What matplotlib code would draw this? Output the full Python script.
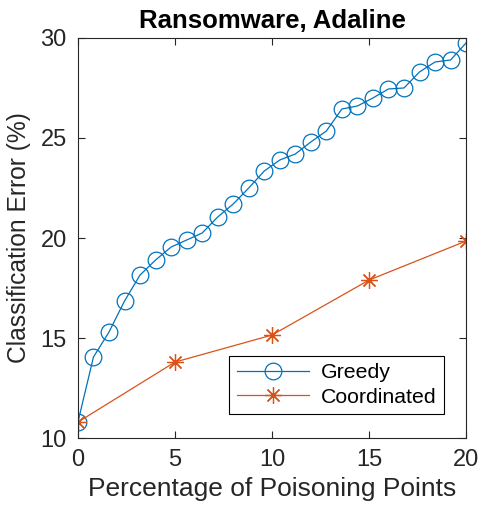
import numpy as np
import matplotlib
matplotlib.use("Agg")
import matplotlib.pyplot as plt

plt.rcParams['font.family'] = ['Liberation Sans', 'DejaVu Sans']

# greedy attack: poisoning percentage vs classification error
greedy_x = [0, 0.8, 1.6, 2.4, 3.2, 4.0, 4.8, 5.6, 6.4, 7.2, 8.0, 8.8, 9.6,
            10.4, 11.2, 12.0, 12.8, 13.6, 14.4, 15.2, 16.0, 16.8, 17.6,
            18.4, 19.2, 20.0]
greedy_err = [10.8, 14.05, 15.3, 16.85, 18.15, 18.9, 19.55, 19.9, 20.25,
              21.05, 21.7, 22.5, 23.35, 23.9, 24.2, 24.8, 25.35, 26.45,
              26.6, 27.0, 27.45, 27.5, 28.3, 28.8, 28.9, 29.75]

# coordinated attack
coord_x = [0, 5, 10, 15, 20]
coord_err = [10.8, 13.8, 15.15, 17.9, 19.85]

blue = '#0072BD'
orange = '#D95319'
axis_gray = '#262626'

fig = plt.figure(figsize=(4.81, 5.13), dpi=100)
ax = fig.add_axes([0.162, 0.146, 0.807, 0.780])

ax.plot(greedy_x, greedy_err, color=blue, lw=0.9, marker='o',
        markersize=12, markerfacecolor='none', markeredgewidth=0.9,
        label='Greedy')
ax.plot(coord_x, coord_err, color=orange, lw=0.9, marker=(8, 2, 0),
        markersize=12, markeredgewidth=0.9, label='Coordinated')

ax.set_xlim(0, 20)
ax.set_ylim(10, 30)
ax.set_xticks([0, 5, 10, 15, 20])
ax.set_yticks([10, 15, 20, 25, 30])

ax.tick_params(direction='in', top=True, right=True, length=5,
               width=0.8, colors=axis_gray, labelsize=17)
ax.tick_params(axis='x', pad=8)
ax.tick_params(axis='y', pad=8)
for s in ax.spines.values():
    s.set_color(axis_gray)
    s.set_linewidth(0.8)

ax.set_xlabel('Percentage of Poisoning Points', fontsize=19,
              color=axis_gray, labelpad=4)
ax.set_ylabel('Classification Error (%)', fontsize=17.7,
              color=axis_gray, labelpad=7)
ax.set_title('Ransomware, Adaline', fontsize=18.5, fontweight='bold', pad=7)

leg = ax.legend(loc='lower right', bbox_to_anchor=(0.942, 0.06),
                fontsize=15.3, fancybox=False, framealpha=1,
                edgecolor='black', handlelength=3.4, borderpad=0.35,
                labelspacing=0.25, handletextpad=0.55, borderaxespad=0)
leg.get_frame().set_linewidth(0.8)

fig.savefig('out.png', dpi=100)
